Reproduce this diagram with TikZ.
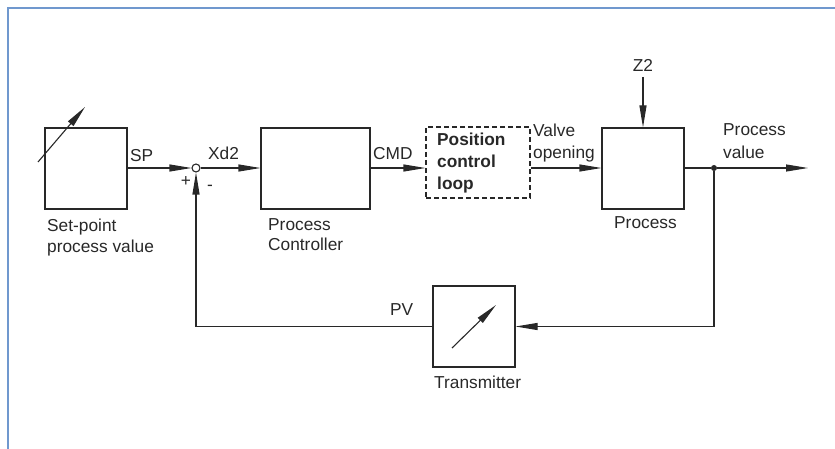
\documentclass[tikz,border=0pt]{standalone}
\usepackage{fontspec}
\setmainfont{Liberation Sans}
\usetikzlibrary{arrows.meta,positioning}
\definecolor{framebl}{RGB}{112,152,206}
\definecolor{ink}{RGB}{40,40,40}
\tikzset{
  blk/.style={draw=ink, line width=1.1pt, minimum width=82pt, minimum height=81pt, inner sep=0pt},
  dblk/.style={draw=ink, line width=1.1pt, dashed, dash pattern=on 5pt off 3pt, inner sep=0pt},
  lbl/.style={anchor=base west, inner sep=0pt, font=\fontsize{17.3}{20}\selectfont, text=ink},
  lblc/.style={anchor=base, inner sep=0pt, font=\fontsize{17.3}{20}\selectfont, text=ink},
  conn/.style={draw=ink, line width=1.1pt},
  arr/.style={conn, -{Triangle[length=22pt,width=7pt]}},
}
\begin{document}
\begin{tikzpicture}[x=1pt,y=-1pt]
\useasboundingbox (0,0) rectangle (835,449);
\draw[framebl, line width=2pt] (8,449) -- (8,8) -- (835,8);

% blocks
\node[blk] (sp) at (86,168.5) {};
\node[blk, minimum width=109pt] (pc) at (315.5,168.5) {};
\node[dblk, minimum width=104pt, minimum height=71pt] (pcl) at (478,162.5) {};
\node[blk] (proc) at (643,168.5) {};
\node[blk] (tr) at (474,326.5) {};
\node[draw=ink, line width=1.1pt, circle, fill=white, minimum size=8pt, inner sep=0pt] (sum) at (196,168) {};
\node[fill=ink, circle, minimum size=6pt, inner sep=0pt] (dot) at (714,168) {};
\coordinate (out) at (808,168);
\coordinate (z2top) at (643,77);
\coordinate (sparr0) at (38,162);
\coordinate (sparr1) at (85,107);
\coordinate (trarr0) at (452,348);
\coordinate (trarr1) at (496,305);

% diagonal arrows
\draw[arr] (sparr0) -- (sparr1);
\draw[arr] (trarr0) -- (trarr1);

% connectors
\draw[arr] (sp.east |- sum) -- (sum.west);
\draw[arr] (sum.east) -- (pc.west |- sum);
\draw[arr] (pc.east |- sum) -- (pcl.west |- sum);
\draw[arr] (pcl.east |- sum) -- (proc.west |- sum);
\draw[conn] (proc.east |- dot) -- (dot);
\draw[arr] (dot) -- (out);
\draw[arr] (dot) |- (tr.east);
\draw[arr] (tr.west) -| (sum.south);
\draw[arr] (z2top) -- (proc.north);

% labels
\node[lbl] (lsp) at (130,162) {SP};
\node[lbl] (lxd) at (208,160) {Xd2};
\node[lblc] (lplus) at (186,187) {+};
\node[lblc] (lminus) at (210,191) {-};
\node[lbl] (lset1) at (47,232) {Set-point};
\node[lbl] (lset2) at (47,252) {process value};
\node[lbl] (lpc1) at (268,230) {Process};
\node[lbl] (lpc2) at (268,250) {Controller};
\node[lbl] (lcmd) at (373,160) {CMD};
\node[lbl, font=\fontsize{17.3}{20}\bfseries] (lpos1) at (437,146) {Position};
\node[lbl, font=\fontsize{17.3}{20}\bfseries] (lpos2) at (437,168) {control};
\node[lbl, font=\fontsize{17.3}{20}\bfseries] (lpos3) at (437,190) {loop};
\node[lbl] (lv1) at (533,137) {Valve};
\node[lbl] (lv2) at (533,159) {opening};
\node[lblc] (lz2) at (643,72) {Z2};
\node[lbl] (lpv1) at (723,136) {Process};
\node[lbl] (lpv2) at (723,159) {value};
\node[lbl] (lproc) at (614,229) {Process};
\node[lbl] (lpvf) at (390,315) {PV};
\node[lbl] (ltr) at (434,388) {Transmitter};
\end{tikzpicture}
\end{document}
